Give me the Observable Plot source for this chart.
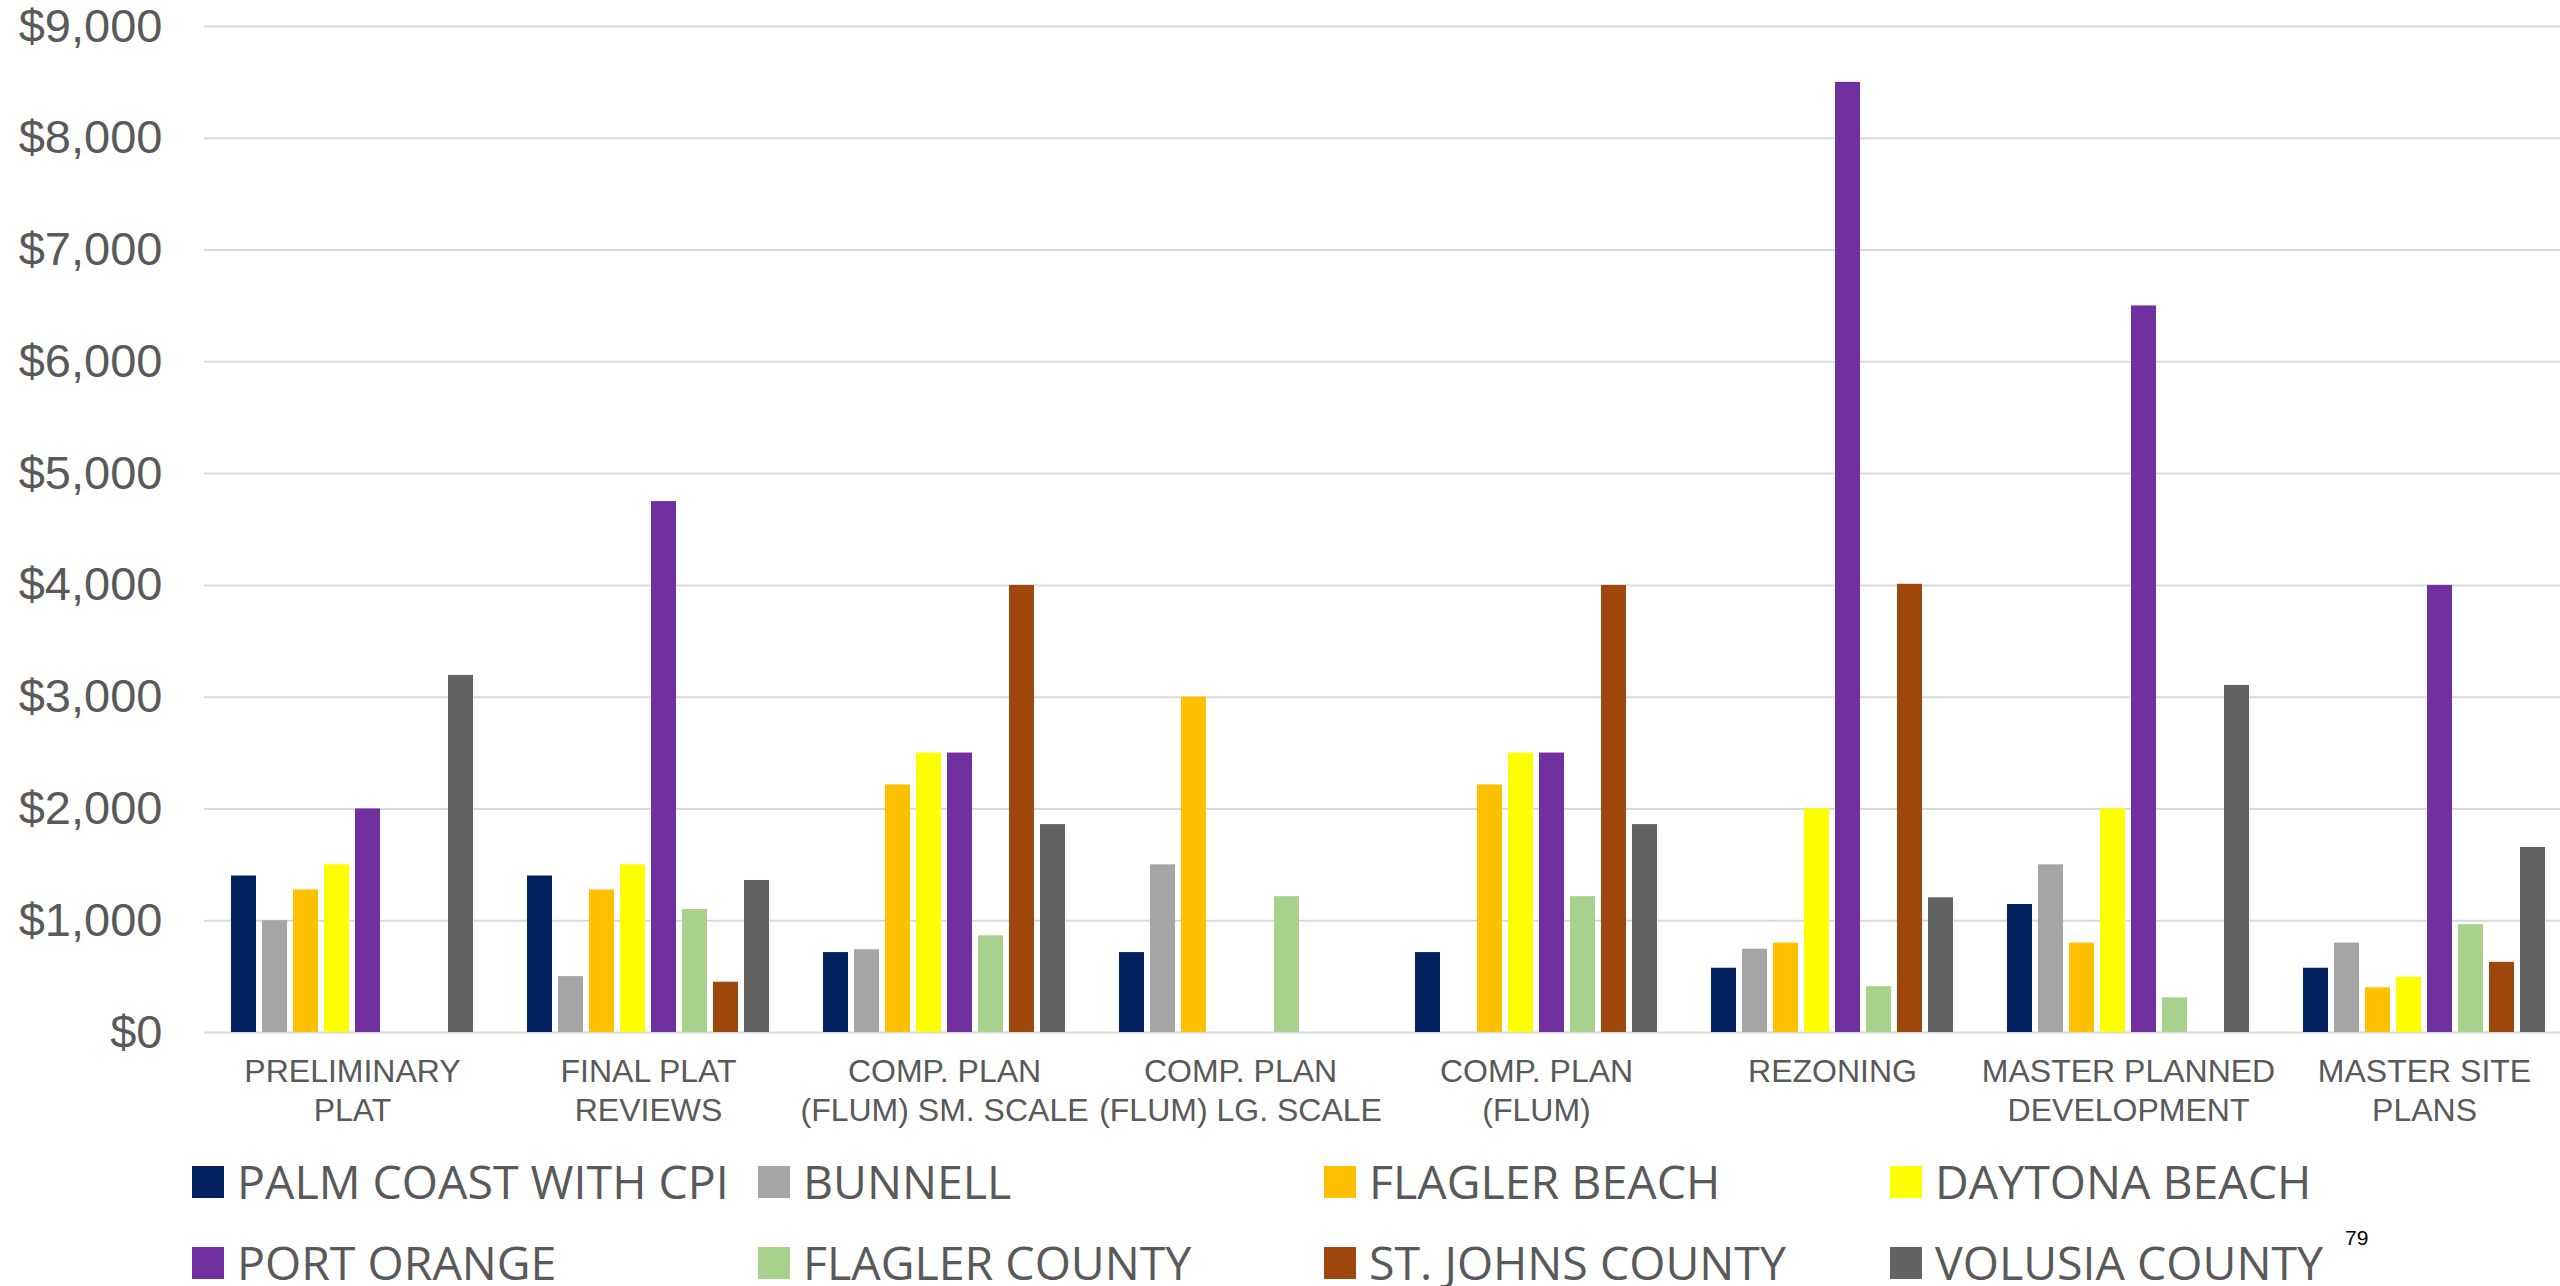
<!DOCTYPE html>
<html>
<head>
<meta charset="utf-8">
<script src="https://cdn.jsdelivr.net/npm/d3@7"></script>
<script src="https://cdn.jsdelivr.net/npm/@observablehq/plot@0.6"></script>
<style>
  html, body { margin: 0; padding: 0; background: #fff; }
  #wrap { position: relative; width: 2560px; height: 1286px; }
  #legend {
    position: absolute; left: 192px; top: 1166px;
    display: grid; grid-template-columns: repeat(4, 566px); grid-auto-rows: 80.7px;
  }
  .item { display: flex; align-items: flex-start; height: 32px; }
  .sw { width: 32px; height: 32px; flex: none; margin-right: 13px; }
  .lab { font-family: "Open Sans", sans-serif; font-size: 46.5px; line-height: 46.5px; margin-top: -8px; color: #595959; white-space: nowrap; }
  #page { position: absolute; left: 2345px; top: 1227px; font-family: "Liberation Sans", Arial, sans-serif; font-size: 21px; line-height: 21px; color: #000; }
</style>
</head>
<body>
<div id="wrap">
  <div id="chart"></div>
  <div id="legend"></div>
  <div id="page">79</div>
</div>
<script>
const categories = [
  "PRELIMINARY\nPLAT",
  "FINAL PLAT\nREVIEWS",
  "COMP. PLAN\n(FLUM) SM. SCALE",
  "COMP. PLAN\n(FLUM) LG. SCALE",
  "COMP. PLAN\n(FLUM)",
  "REZONING",
  "MASTER PLANNED\nDEVELOPMENT",
  "MASTER SITE\nPLANS"
];
const seriesNames = [
  "PALM COAST WITH CPI", "BUNNELL", "FLAGLER BEACH", "DAYTONA BEACH",
  "PORT ORANGE", "FLAGLER COUNTY", "ST. JOHNS COUNTY", "VOLUSIA COUNTY"
];
const seriesColors = ["#002060", "#A5A5A5", "#FFC000", "#FFFF00", "#7030A0", "#A9D18E", "#9E480E", "#636363"];

// values per category (null = no bar)
const palmCoast     = [1400, 1400,  715,  715,  715,  575, 1145,  575];
const bunnell       = [1000,  500,  740, 1500, null,  745, 1500,  800];
const flaglerBeach  = [1275, 1275, 2215, 3000, 2215,  800,  800,  400];
const daytonaBeach  = [1500, 1500, 2500, null, 2500, 2000, 2000,  495];
const portOrange    = [2000, 4750, 2500, null, 2500, 8500, 6500, 4000];
const flaglerCounty = [null, 1100,  865, 1215, 1215,  410,  310,  965];
const stJohnsCounty = [null,  450, 4000, null, 4000, 4010, null,  628];
const volusiaCounty = [3195, 1360, 1860, null, 1860, 1205, 3105, 1655];

const yTicks = [0, 1000, 2000, 3000, 4000, 5000, 6000, 7000, 8000, 9000];

const seriesValues = [palmCoast, bunnell, flaglerBeach, daytonaBeach, portOrange, flaglerCounty, stJohnsCounty, volusiaCounty];
const rows = [];
categories.forEach((c, i) => {
  seriesNames.forEach((s, j) => {
    const v = seriesValues[j][i];
    if (v != null) rows.push({category: c, series: s, value: v});
  });
});

const chart = Plot.plot({
  width: 2560,
  height: 1140,
  marginLeft: 203,
  marginRight: -13,
  marginTop: 26,
  marginBottom: 108,
  style: {fontFamily: "'Liberation Sans', Arial, sans-serif", color: "#595959", background: "#fff", display: "block", overflow: "hidden"},
  fx: {domain: categories, padding: 0, label: null},
  x: {domain: seriesNames, paddingInner: 0.19, paddingOuter: 0.86, axis: null},
  y: {domain: [0, 9000], label: null},
  color: {domain: seriesNames, range: seriesColors},
  marks: [
    Plot.ruleY(yTicks, {stroke: "#d9d9d9", strokeWidth: 2}),
    Plot.barY(rows, {fx: "category", x: "series", y: "value", fill: "series"}),
    Plot.axisY({ticks: yTicks, tickFormat: d3.format("$,"), tickSize: 0, tickPadding: 42, fontSize: 47, label: null, fill: "#595959"}),
    Plot.axisFx({anchor: "bottom", tickSize: 0, tickPadding: 22, fontSize: 32, lineHeight: 1.22, label: null, fill: "#595959"})
  ]
});
document.getElementById("chart").appendChild(chart);

const legend = document.getElementById("legend");
seriesNames.forEach((s, j) => {
  const item = document.createElement("div");
  item.className = "item";
  const sw = document.createElement("div");
  sw.className = "sw";
  sw.style.background = seriesColors[j];
  const lab = document.createElement("div");
  lab.className = "lab";
  lab.textContent = s;
  item.appendChild(sw);
  item.appendChild(lab);
  legend.appendChild(item);
});
</script>
</body>
</html>
